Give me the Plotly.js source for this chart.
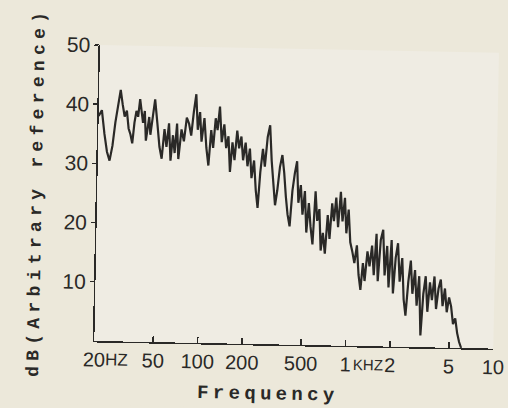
<!DOCTYPE html>
<html>
<head>
<meta charset="utf-8">
<script src="https://cdn.plot.ly/plotly-3.0.1.min.js"></script>
<style>
  html, body { margin: 0; padding: 0; background: #ece8da; overflow: hidden; }
  #chart { width: 508px; height: 408px; transform: rotate(1.1deg); transform-origin: 50% 50%; }
  .ytitle { letter-spacing: 5.3px; }
  .xtitle { letter-spacing: 4.3px; transform: translateX(-25px); }
</style>
</head>
<body>
<div id="chart"></div>
<script>
// Frequency (Hz) sample points along the traced spectrum
const freqHz = [
  20, 21, 22, 23, 24, 25, 26, 27, 28, 29,
  30, 31, 32, 33, 34, 35, 36, 37, 38, 40,
  41, 42, 44, 45, 47, 48, 50, 52, 54, 56,
  58, 60, 62, 64, 66, 68, 70, 73, 76, 79,
  82, 85, 88, 91, 94, 97, 100, 104, 108, 112,
  116, 120, 124, 128, 132, 137, 142, 147, 152, 157,
  162, 168, 174, 180, 186, 192, 199, 206, 213, 220,
  228, 236, 244, 252, 261, 270, 280, 290, 300, 310,
  320, 330, 342, 354, 366, 378, 390, 404, 418, 432,
  446, 460, 476, 492, 508, 525, 542, 560, 580, 600,
  620, 640, 660, 680, 705, 730, 755, 780, 805, 830,
  860, 890, 920, 950, 980, 1010, 1045, 1080, 1120, 1160,
  1200, 1240, 1280, 1320, 1370, 1420, 1470, 1520, 1570, 1620,
  1680, 1740, 1800, 1860, 1920, 1990, 2060, 2130, 2200, 2280,
  2360, 2440, 2520, 2610, 2700, 2790, 2890, 2990, 3090, 3200,
  3310, 3420, 3540, 3660, 3790, 3920, 4050, 4190, 4330, 4480,
  4630, 4790, 4950, 5120, 5300, 5480, 5670, 5860, 6060
];
// Level in dB (arbitrary reference)
const levelDb = [
  38, 39, 35, 32, 30.5, 33, 37, 40, 42.5, 40,
  38, 39, 36, 35, 33.5, 37, 39, 38, 41, 37,
  39, 34, 38, 35, 39, 41, 37, 33, 31, 36,
  33, 37, 30.7, 35, 32, 37, 31, 36, 34, 38,
  37, 35, 39, 42, 36, 39, 34, 38, 33, 30,
  36, 33, 38, 36, 40, 34, 37, 33, 35, 29,
  34, 31, 36, 33, 35, 31, 34, 30, 33, 28,
  31, 26, 23, 29, 33, 30, 35, 37, 31, 27,
  23.5, 26, 30, 32, 29, 25, 22, 20, 26, 29,
  31, 24, 27, 22, 26, 19, 24, 20, 17, 26,
  21, 23, 16, 19, 15.5, 22, 18, 24, 21, 25,
  20, 26, 21, 25, 19, 23, 17.5, 16, 14, 17,
  12, 9.5, 14, 11, 16, 13.5, 17, 12, 19, 11,
  18, 19.7, 12, 17, 10, 18, 9, 15, 17.5, 11,
  15, 8, 5.3, 11, 14.6, 9, 13, 7, 12, 2,
  9, 12, 6, 11, 8, 12, 6.5, 10, 11.5, 7,
  10, 6, 8.5, 7, 4, 5, 2.5, 1, 0
];
const xTickVals = [20, 50, 100, 200, 500, 1000, 2000, 5000, 10000];
const xTickText = ['20', '50', '100', '200', '500', '1', '2', '5', '10'];
const yTickVals = [10, 20, 30, 40, 50];
const yTickText = ['10', '20', '30', '40', '50'];
const xRangeHz = [20, 10000];
const yRangeDb = [0, 50];

const ink = '#2a2927';
const sans = 'Liberation Sans, Arial, sans-serif';
const mono = 'Liberation Mono, Courier New, monospace';

const trace = {
  x: freqHz, y: levelDb, type: 'scatter', mode: 'lines',
  line: { color: ink, width: 2.2 },
  hoverinfo: 'x+y'
};

const layout = {
  width: 508, height: 408,
  margin: { l: 97, r: 12, t: 48, b: 64 },
  paper_bgcolor: '#ece8da',
  plot_bgcolor: '#efece3',
  showlegend: false,
  font: { family: sans, color: ink },
  xaxis: {
    type: 'log',
    range: [Math.log10(xRangeHz[0]), Math.log10(xRangeHz[1])],
    tickvals: xTickVals, ticktext: xTickText,
    ticks: 'inside', ticklen: 6, tickwidth: 1.5, tickcolor: ink,
    showline: true, linecolor: ink, linewidth: 1.5,
    showgrid: false, zeroline: false,
    tickfont: { size: 20, color: ink, family: sans },
    title: { text: '<b>Frequency</b>', standoff: 13,
      font: { family: mono, size: 19, color: ink } }
  },
  yaxis: {
    range: yRangeDb,
    tickvals: yTickVals, ticktext: yTickText,
    ticks: 'outside', ticklen: 4, tickwidth: 1.5, tickcolor: ink,
    showline: true, linecolor: ink, linewidth: 1.5,
    showgrid: false, zeroline: false,
    tickfont: { size: 21, color: ink, family: sans },
    title: { text: '<b>dB(Arbitrary reference)</b>', standoff: 17,
      font: { family: mono, size: 18, color: ink } }
  },
  annotations: [
    { text: 'HZ', xref: 'x', yref: 'y', x: Math.log10(xTickVals[0]), y: yRangeDb[0],
      xanchor: 'left', yanchor: 'top', xshift: 9, yshift: -7, showarrow: false,
      font: { size: 17, color: ink, family: sans } },
    { text: 'KHZ', xref: 'x', yref: 'y', x: Math.log10(xTickVals[5]), y: yRangeDb[0],
      xanchor: 'left', yanchor: 'top', xshift: 6, yshift: -8, showarrow: false,
      font: { size: 15, color: ink, family: sans } }
  ]
};

Plotly.newPlot('chart', [trace], layout, { displayModeBar: false, staticPlot: true });
</script>
</body>
</html>
